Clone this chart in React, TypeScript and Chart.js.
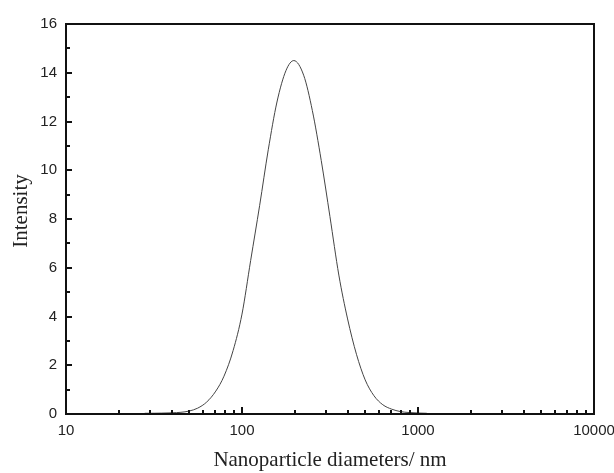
import React, { useEffect, useRef } from "react";
import { Chart, registerables } from "chart.js";

Chart.register(...registerables);

// Data (log-spaced diameters, nm)
const diameters = [28, 32, 35, 40, 45, 50, 56, 63, 71, 79, 89, 100, 112, 126, 141, 158, 178, 197, 224, 251, 282, 316, 355, 398, 447, 501, 562, 631, 708, 794, 891, 1000, 1122];
const intensity = [0.03, 0.032, 0.037, 0.048, 0.07, 0.12, 0.24, 0.49, 0.94, 1.55, 2.6, 4.1, 6.3, 8.56, 10.84, 12.8, 14.1, 14.5, 13.9, 12.45, 10.4, 8.1, 5.7, 3.9, 2.45, 1.4, 0.75, 0.38, 0.2, 0.1, 0.06, 0.04, 0.03];

const xMajorTicks = [10, 100, 1000, 10000];
const xMinorTicks = [20, 30, 40, 50, 60, 70, 80, 90, 200, 300, 400, 500, 600, 700, 800, 900, 2000, 3000, 4000, 5000, 6000, 7000, 8000, 9000];
const yMajorTicks = [0, 2, 4, 6, 8, 10, 12, 14, 16];
const yMinorTicks = [1, 3, 5, 7, 9, 11, 13, 15];

const xTitle = "Nanoparticle diameters/ nm";
const yTitle = "Intensity";

const framePlugin = {
  id: "framePlugin",
  afterDraw(chart: any) {
    const { ctx, chartArea } = chart;
    const { left, right, top, bottom } = chartArea;
    const xs = chart.scales.x;
    const ys = chart.scales.y;
    ctx.save();
    ctx.strokeStyle = "#111";
    ctx.lineWidth = 2;
    ctx.beginPath();
    ctx.rect(left, top, right - left, bottom - top);
    ctx.stroke();
    ctx.beginPath();
    for (const v of xMajorTicks) {
      const px = Math.round(xs.getPixelForValue(v));
      ctx.moveTo(px, bottom);
      ctx.lineTo(px, bottom - 7);
    }
    for (const v of xMinorTicks) {
      const px = Math.round(xs.getPixelForValue(v));
      ctx.moveTo(px, bottom);
      ctx.lineTo(px, bottom - 4);
    }
    for (const v of yMajorTicks) {
      const py = Math.round(ys.getPixelForValue(v));
      ctx.moveTo(left, py);
      ctx.lineTo(left + 6, py);
    }
    for (const v of yMinorTicks) {
      const py = Math.round(ys.getPixelForValue(v));
      ctx.moveTo(left, py);
      ctx.lineTo(left + 4, py);
    }
    ctx.stroke();
    // y-axis title
    ctx.translate(21, (top + bottom) / 2 - 8);
    ctx.rotate(-Math.PI / 2);
    ctx.fillStyle = "#222";
    ctx.font = "21px 'Liberation Serif', 'Times New Roman', serif";
    ctx.textAlign = "center";
    ctx.textBaseline = "middle";
    ctx.fillText(yTitle, 0, 0);
    ctx.restore();
  },
};

export default function App() {
  const ref = useRef<HTMLCanvasElement | null>(null);
  useEffect(() => {
    if (!ref.current) return;
    const chart = new Chart(ref.current, {
      type: "line",
      data: {
        datasets: [
          {
            data: diameters.map((d, i) => ({ x: d, y: intensity[i] })),
            borderColor: "#444",
            borderWidth: 1,
            pointRadius: 0,
            fill: false,
            cubicInterpolationMode: "monotone",
            clip: false as any,
          },
        ],
      },
      options: {
        responsive: false,
        animation: false,
        layout: { padding: { top: 24, right: 20, left: 0, bottom: 0 } },
        plugins: { legend: { display: false }, tooltip: { enabled: false } },
        scales: {
          x: {
            type: "logarithmic",
            min: 10,
            max: 10000,
            grid: { display: false, drawTicks: false },
            border: { display: false },
            afterBuildTicks: (scale: any) => {
              scale.ticks = xMajorTicks.map((v) => ({ value: v }));
            },
            afterFit: (scale: any) => {
              scale.height = 59;
              scale.paddingLeft = 0;
              scale.paddingRight = 0;
            },
            ticks: {
              autoSkip: false,
              maxRotation: 0,
              padding: 8,
              color: "#222",
              font: { family: "'Liberation Sans', Arial, sans-serif", size: 15 },
              callback: (v: any) => String(v),
            },
            title: {
              display: true,
              text: xTitle,
              color: "#222",
              font: { family: "'Liberation Serif', 'Times New Roman', serif", size: 21 },
              padding: { top: 0, bottom: 0 },
            },
          },
          y: {
            type: "linear",
            min: 0,
            max: 16,
            grid: { display: false, drawTicks: false },
            border: { display: false },
            afterBuildTicks: (scale: any) => {
              scale.ticks = yMajorTicks.map((v) => ({ value: v }));
            },
            afterFit: (scale: any) => {
              scale.width = 66;
              scale.paddingTop = 0;
              scale.paddingBottom = 0;
            },
            ticks: {
              padding: 9,
              color: "#222",
              font: { family: "'Liberation Sans', Arial, sans-serif", size: 15 },
              callback: (v: any) => String(v),
            },
            title: { display: false },
          },
        },
      },
      plugins: [framePlugin],
    });
    return () => chart.destroy();
  }, []);
  return (
    <div style={{ position: "absolute", left: 0, top: 0, width: 614, height: 473, background: "#fff" }}>
      <canvas ref={ref} width={614} height={473} style={{ width: 614, height: 473, display: "block" }} />
    </div>
  );
}
